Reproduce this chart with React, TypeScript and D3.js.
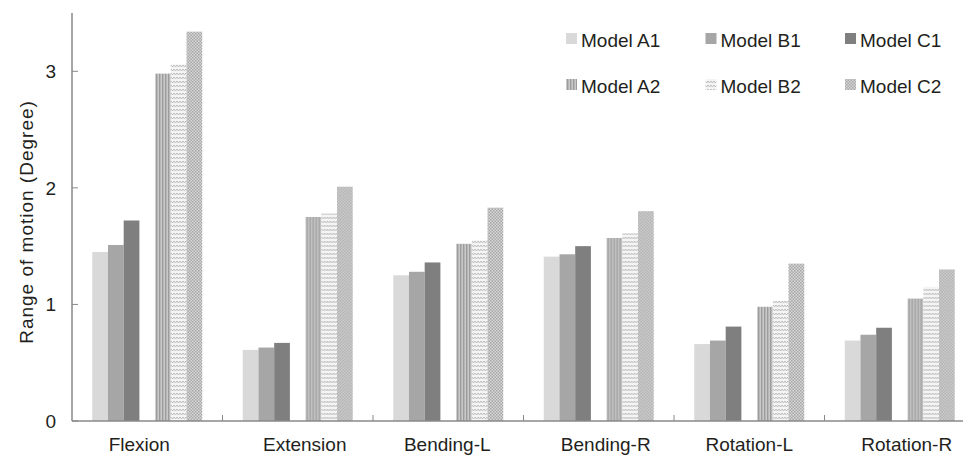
import * as d3 from "d3"

const categories = ["Flexion", "Extension", "Bending-L", "Bending-R", "Rotation-L", "Rotation-R"]
const seriesNames = ["Model A1", "Model B1", "Model C1", "Model A2", "Model B2", "Model C2"]
const modelA1 = [1.45, 0.61, 1.25, 1.41, 0.66, 0.69]
const modelB1 = [1.51, 0.63, 1.28, 1.43, 0.69, 0.74]
const modelC1 = [1.72, 0.67, 1.36, 1.5, 0.81, 0.8]
const modelA2 = [2.98, 1.75, 1.52, 1.57, 0.98, 1.05]
const modelB2 = [3.06, 1.78, 1.55, 1.61, 1.03, 1.15]
const modelC2 = [3.34, 2.01, 1.83, 1.8, 1.35, 1.3]
const yTicks = [0, 1, 2, 3]

const seriesValues = [modelA1, modelB1, modelC1, modelA2, modelB2, modelC2]
const FILLS = ["#d9d9d9", "#a6a6a6", "#7f7f7f", "url(#patA2)", "url(#patB2)", "url(#patC2)"]
// slot order inside a group; the empty slot makes the gap between the two trios
const SLOTS = ["Model A1", "Model B1", "Model C1", "gap", "Model A2", "Model B2", "Model C2"]
// the original labels sit a little off their group centres
const LABEL_DX = [-8, 7, -1, 7, 0, 7]

const W = 963
const H = 455
const left = 72
const bottom = 421
const top = 13
const FONT = "'Liberation Sans', Arial, sans-serif"
const TEXT = "#231f20"
const AXIS = "#888"
const FS = 19

export default function App() {
  const x = d3.scaleBand<string>().domain(categories).range([left, left + 6 * 150.5]).padding(0)
  const xi = d3.scaleBand<string>().domain(SLOTS).range([0, x.bandwidth()]).paddingInner(0).paddingOuter(1.29)
  const y = d3.scaleLinear().domain([0, 3.5]).range([bottom, top])

  return (
    <div style={{ position: "absolute", left: 0, top: 0 }}>
      <svg width={W} height={H} style={{ display: "block", fontFamily: FONT }}>
        <defs>
          <pattern id="patA2" width={3} height={3} patternUnits="userSpaceOnUse">
            <rect width={3} height={3} fill="#c9c9c9" />
            <rect width={1.4} height={3} fill="#9c9c9c" />
          </pattern>
          <pattern id="patB2" width={6} height={4} patternUnits="userSpaceOnUse">
            <rect width={6} height={4} fill="#f4f4f4" />
            <path d="M0,1 L1.5,3 L3,1 L4.5,3 L6,1" fill="none" stroke="#bcbcbc" strokeWidth={1} />
          </pattern>
          <pattern id="patC2" width={3} height={3} patternUnits="userSpaceOnUse">
            <rect width={3} height={3} fill="#d6d6d6" />
            <rect width={1.5} height={1.5} fill="#a9a9a9" />
            <rect x={1.5} y={1.5} width={1.5} height={1.5} fill="#a9a9a9" />
          </pattern>
        </defs>

        {/* bars */}
        {categories.map((c, ci) => (
          <g key={c} transform={`translate(${x(c)},0)`}>
            {seriesNames.map((s, si) => {
              const v = seriesValues[si][ci]
              return (
                <rect
                  key={s}
                  x={xi(s)}
                  y={y(v)}
                  width={xi.bandwidth()}
                  height={bottom - y(v)}
                  fill={FILLS[si]}
                />
              )
            })}
          </g>
        ))}

        {/* y axis */}
        <line x1={left} x2={left} y1={top} y2={bottom} stroke={AXIS} strokeWidth={1.5} />
        {yTicks.map((t) => (
          <g key={t}>
            <line x1={left} x2={left + 6} y1={y(t)} y2={y(t)} stroke={AXIS} strokeWidth={1} />
            <text x={56} y={y(t)} dy="0.35em" textAnchor="end" fontSize={FS} fill={TEXT}>
              {t}
            </text>
          </g>
        ))}
        <text
          transform={`translate(33,${(top + bottom) / 2 + 5}) rotate(-90)`}
          textAnchor="middle"
          fontSize={FS}
          letterSpacing={1}
          fill={TEXT}
        >
          Range of motion (Degree)
        </text>

        {/* x axis */}
        <line x1={left} x2={W} y1={bottom} y2={bottom} stroke={AXIS} strokeWidth={1.5} />
        {categories.slice(1).map((c) => (
          <line key={c} x1={x(c)} x2={x(c)} y1={bottom} y2={bottom - 6} stroke={AXIS} strokeWidth={1} />
        ))}
        {categories.map((c, i) => (
          <text
            key={c}
            x={x(c)! + x.bandwidth() / 2 + LABEL_DX[i]}
            y={451}
            textAnchor="middle"
            fontSize={FS}
            fill={TEXT}
          >
            {c}
          </text>
        ))}

        {/* legend */}
        {seriesNames.map((s, i) => {
          const lx = 566 + (i % 3) * 139.5
          const ly = i < 3 ? 47 : 93
          return (
            <g key={s}>
              <rect x={lx} y={ly - 14} width={11} height={11} fill={FILLS[i]} />
              <text x={lx + 15} y={ly} fontSize={FS} fill={TEXT}>
                {s}
              </text>
            </g>
          )
        })}
      </svg>
    </div>
  )
}
